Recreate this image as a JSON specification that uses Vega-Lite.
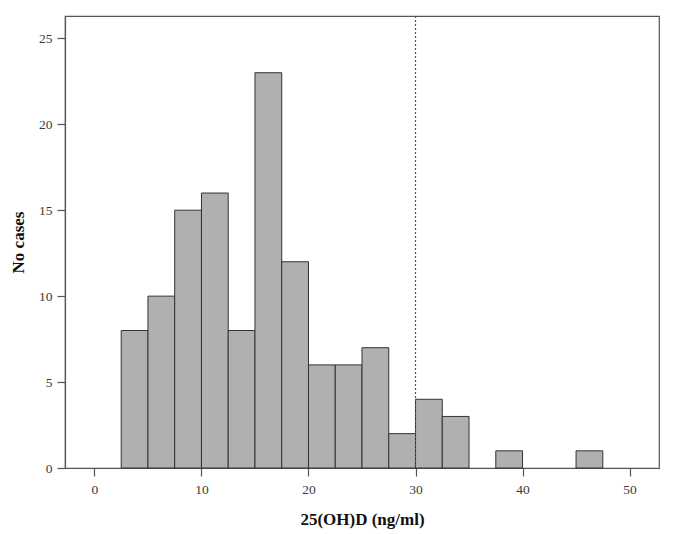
{
  "$schema": "https://vega.github.io/schema/vega-lite/v6.json",
  "autosize": "none",
  "width": 594,
  "height": 452,
  "padding": {"left": 65, "top": 16, "right": 22, "bottom": 66},
  "background": "white",
  "config": {
    "view": {"stroke": "#555", "strokeWidth": 1.2},
    "font": "Liberation Serif",
    "axis": {
      "grid": false,
      "domainColor": "#555",
      "domainWidth": 1.2,
      "tickColor": "#555",
      "tickSize": 8,
      "tickWidth": 1.2,
      "labelFont": "Liberation Serif",
      "labelFontSize": 13.5,
      "labelColor": "#3a3a3a",
      "titleFont": "Liberation Serif",
      "titleFontSize": 17,
      "titleFontWeight": "bold",
      "titleColor": "#111"
    }
  },
  "data": {
    "values": [
      {"start": 2.5, "end": 5, "count": 8},
      {"start": 5, "end": 7.5, "count": 10},
      {"start": 7.5, "end": 10, "count": 15},
      {"start": 10, "end": 12.5, "count": 16},
      {"start": 12.5, "end": 15, "count": 8},
      {"start": 15, "end": 17.5, "count": 23},
      {"start": 17.5, "end": 20, "count": 12},
      {"start": 20, "end": 22.5, "count": 6},
      {"start": 22.5, "end": 25, "count": 6},
      {"start": 25, "end": 27.5, "count": 7},
      {"start": 27.5, "end": 30, "count": 2},
      {"start": 30, "end": 32.5, "count": 4},
      {"start": 32.5, "end": 35, "count": 3},
      {"start": 37.5, "end": 40, "count": 1},
      {"start": 45, "end": 47.5, "count": 1}
    ]
  },
  "layer": [
    {
      "mark": {"type": "rect", "fill": "#b0b0b0", "stroke": "#333", "strokeWidth": 1},
      "encoding": {
        "x": {
          "field": "start", "type": "quantitative",
          "scale": {"domain": [-2.75, 52.75], "nice": false, "zero": false},
          "axis": {"values": [0, 10, 20, 30, 40, 50], "title": "25(OH)D (ng/ml)", "labelPadding": 6, "titlePadding": 16}
        },
        "x2": {"field": "end"},
        "y": {
          "field": "count", "type": "quantitative",
          "scale": {"domain": [0, 26.3], "nice": false},
          "axis": {"values": [0, 5, 10, 15, 20, 25], "title": "No cases", "labelPadding": 5, "titlePadding": 11}
        },
        "y2": {"datum": 0}
      }
    },
    {
      "data": {"values": [{"cut": 30}]},
      "mark": {"type": "rule", "stroke": "#555", "strokeWidth": 1.2, "strokeDash": [2, 2]},
      "encoding": {"x": {"field": "cut", "type": "quantitative"}}
    }
  ]
}
